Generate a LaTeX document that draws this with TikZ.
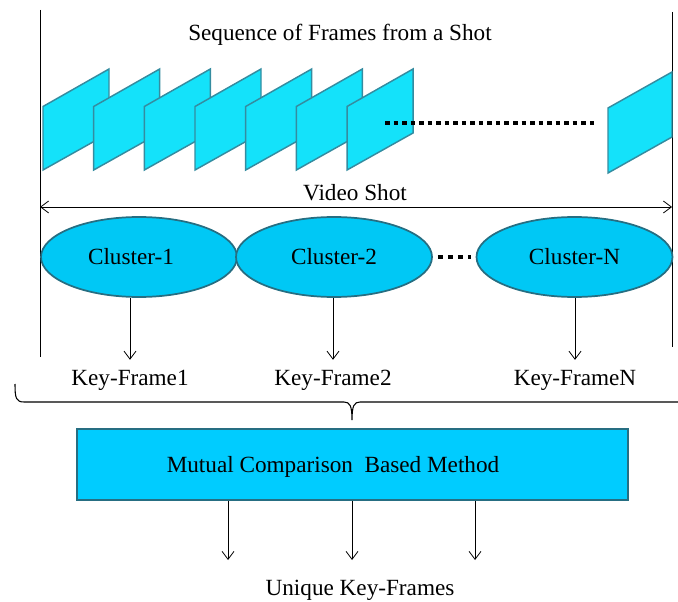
\documentclass[tikz,border=0pt]{standalone}
\usepackage{fontspec}
\setmainfont{Liberation Serif}
\usetikzlibrary{shapes.geometric,arrows.meta}
\definecolor{framefill}{RGB}{20,226,250}
\definecolor{frameline}{RGB}{52,140,160}
\definecolor{clusterfill}{RGB}{0,200,245}
\definecolor{clusterline}{RGB}{38,110,130}
\definecolor{boxfill}{RGB}{0,204,255}
\begin{document}
\begin{tikzpicture}[x=0.75pt,y=-0.75pt,
		>={Straight Barb[length=6pt,width=9pt]},
		every node/.style={font=\fontsize{17.4}{20}\selectfont},
		frameshape/.style={fill=framefill, draw=frameline, line width=1.1pt},
		clusternode/.style={ellipse, fill=clusterfill, draw=clusterline, line width=1.3pt, minimum width=147pt, minimum height=60pt, inner sep=0pt},
		methodbox/.style={rectangle, fill=boxfill, draw=clusterline, line width=1.5pt, minimum width=413pt, minimum height=53pt},
		bigdots/.style={line width=3pt, dash pattern=on 3.4pt off 3pt},
		clusterdots/.style={line width=3pt, dash pattern=on 3.75pt off 3.75pt, shorten <=3.75pt, shorten >=3.75pt}]
		\useasboundingbox (0,0) rectangle (678,602);
		% shot borders
		\coordinate (lt) at (40,10);
		\coordinate (lb) at (40,357);
		\coordinate (rt) at (672,12);
		\coordinate (rb) at (672,347);
		\draw[line width=0.6pt] (lt) -- (lb);
		\draw[line width=0.6pt] (rt) -- (rb);
		\node (title) at (340,35) {Sequence of Frames from a Shot};
		% frames
		\foreach \i in {0,...,6} {
			\pgfmathsetmacro{\fx}{43+50.67*\i}
			\draw[frameshape] (\fx,170) -- (\fx,106.5) -- (\fx+66,69) -- (\fx+66,133) -- cycle;
		}
		\coordinate (fdl) at (385,123);
		\coordinate (fdr) at (597,123);
		\draw[bigdots] (fdl) -- (fdr);
		\draw[frameshape] (608,173) -- (608,108) -- (672,72) -- (672,137) -- cycle;
		% video shot
		\coordinate (vsl) at (40,207);
		\coordinate (vsr) at (672,207);
		\draw[<->, line width=0.6pt] (vsl) -- (vsr);
		\node (vs) at (355,193) {Video Shot};
		% clusters
		\node[clusternode] (c1) at (139,257) {Cluster-1\hspace*{12pt}};
		\node[clusternode] (c2) at (334,257) {Cluster-2};
		\node[clusternode] (cN) at (574.5,257) {Cluster-N};
		\draw[clusterdots] (c2.east) -- (cN.west);
		\node (k1) at (130,380) {Key-Frame1};
		\node (k2) at (333,380) {Key-Frame2};
		\node (kN) at (575,380) {Key-FrameN};
		\draw[->, line width=0.6pt] (c1.south -| k1) -- ([yshift=4pt]k1.north);
		\draw[->, line width=0.6pt] (c2.south -| k2) -- ([yshift=4pt]k2.north);
		\draw[->, line width=0.6pt] (cN.south -| kN) -- ([yshift=4pt]kN.north);
		% brace
		\draw[line width=0.8pt] (15,384) .. controls (15,398) and (16,402) .. (24,402) -- (344,402)
			.. controls (350,402) and (352,406) .. (352,420)
			.. controls (352,406) and (354,402) .. (360,402) -- (680,402);
		% method
		\node[methodbox] (mcb) at (352.5,464.5) {};
		\node (mcbtext) at (333,467) {Mutual Comparison~ Based Method};
		\coordinate (u1) at (228,560);
		\coordinate (u2) at (352,560);
		\coordinate (u3) at (475,560);
		\draw[->, line width=0.6pt] (mcb.south -| u1) -- (u1);
		\draw[->, line width=0.6pt] (mcb.south -| u2) -- (u2);
		\draw[->, line width=0.6pt] (mcb.south -| u3) -- (u3);
		\node (uk) at (360,590) {Unique Key-Frames};
	\end{tikzpicture}
\end{document}
